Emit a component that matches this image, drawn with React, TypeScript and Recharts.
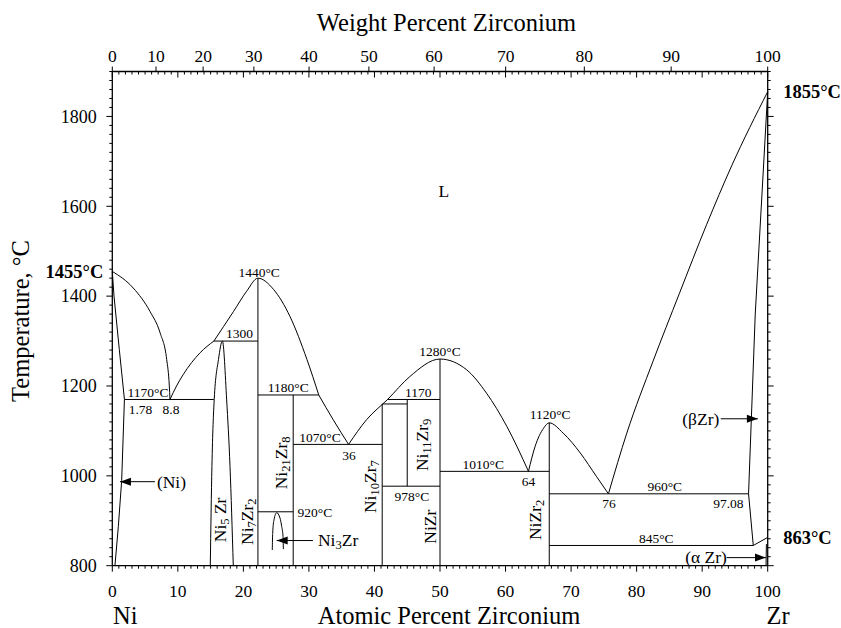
import React from 'react';
import { ComposedChart, Line, Scatter, XAxis, YAxis } from 'recharts';

const FONT = "'Liberation Serif', 'Times New Roman', Times, serif";

// axis ticks
const atomicTicks = [...Array(101).keys()];
const weightLabels = [0, 10, 20, 30, 40, 50, 60, 70, 80, 90, 100];
const weightAtAtomic = [0, 6.67, 13.86, 21.6, 30.02, 39.15, 49.1, 60.02, 72.02, 85.27, 100];
const tempTicks = [...Array(56).keys()].map((i) => 800 + i * 20);
const leftMarks = [1455];
const rightMarks = [1855, 863];

// phase boundaries, [at.% Zr, °C]
const liquidusNi = [[0, 1455], [3.2, 1418], [5.75, 1366], [7.3, 1318], [8.3, 1259], [8.7, 1200], [8.8, 1170]];
const solidusNi = [[0, 1455], [0.26, 1400], [1.07, 1281], [1.85, 1170]];
const solvusNi = [[1.85, 1170], [1.43, 990], [0.92, 887], [0.4, 800]];
const eutectic1170 = [[1.85, 1170], [15.5, 1170]];
const liquidusNi5Zr = [[8.8, 1170], [9.8, 1200], [10.8, 1225], [13.4, 1274], [15.5, 1300]];
const ni5ZrLens = [[14.95, 800], [15.2, 1021], [15.55, 1170], [16.2, 1259], [16.8, 1300], [17.45, 1169], [17.96, 1021], [18.46, 800]];
const peritectic1300 = [[15.5, 1300], [22.22, 1300]];
const ni7Zr2 = [[22.22, 800], [22.22, 1440]];
const liquidusNi7Zr2 = [[15.5, 1300], [18.5, 1366], [20.5, 1411], [22.22, 1440], [24.6, 1415], [27.1, 1355], [29.7, 1259], [31.5, 1180]];
const peritectic1180 = [[22.22, 1180], [31.5, 1180]];
const ni21Zr8 = [[27.6, 800], [27.6, 1180]];
const liquidus36 = [[31.5, 1180], [33.7, 1125], [36.05, 1070]];
const eutectic1070 = [[27.6, 1070], [41.18, 1070]];
const ni3ZrTop = [[22.22, 920], [27.6, 920]];
const ni3ZrLoop = [[24.41, 835], [24.47, 872], [24.67, 902], [25.08, 918], [25.59, 906], [25.85, 887], [26.05, 865], [26.1, 837]];
const liquidusNiZr = [[36.05, 1070], [38.8, 1125], [42, 1170], [45.4, 1221], [50, 1260], [54.07, 1236], [57.1, 1184], [60.2, 1110], [63.5, 1010]];
const peritectic1170 = [[42, 1170], [50, 1170]];
const peritectic1160 = [[41.18, 1160], [45, 1160]];
const ni10Zr7 = [[41.18, 800], [41.18, 1160]];
const ni11Zr9 = [[45, 977], [45, 1170]];
const eutectoid978 = [[41.18, 977], [50, 977]];
const niZr = [[50, 800], [50, 1260]];
const eutectic1010 = [[50, 1010], [66.67, 1010]];
const niZr2 = [[66.67, 800], [66.67, 1118]];
const liquidusNiZr2 = [[63.5, 1010], [64.5, 1065], [65.8, 1106], [66.67, 1118], [68.8, 1095], [71.4, 1051], [73.9, 998], [75.7, 960]];
const eutectic960 = [[66.67, 960], [97.08, 960]];
const liquidusZr = [[75.7, 960], [78.5, 1095], [82.5, 1255], [86.5, 1405], [90.7, 1560], [94.5, 1690], [100, 1855]];
const solidusBetaZr = [[97.08, 960], [98.1, 1360], [100, 1855]];
const solvusBetaZr = [[97.08, 960], [97.8, 845]];
const eutectoid845 = [[66.67, 845], [97.8, 845]];
const transusZr = [[97.8, 845], [100, 863]];
const solvusAlphaZr = [[99.75, 800], [99.8, 848]];

const boundaries = [
  { pts: liquidusNi, curve: 'monotone' },
  { pts: solidusNi, curve: 'linear' },
  { pts: solvusNi, curve: 'linear' },
  { pts: eutectic1170, curve: 'linear' },
  { pts: liquidusNi5Zr, curve: 'monotone' },
  { pts: ni5ZrLens, curve: 'monotone' },
  { pts: peritectic1300, curve: 'linear' },
  { pts: ni7Zr2, curve: 'linear' },
  { pts: liquidusNi7Zr2, curve: 'monotone' },
  { pts: peritectic1180, curve: 'linear' },
  { pts: ni21Zr8, curve: 'linear' },
  { pts: liquidus36, curve: 'monotone' },
  { pts: eutectic1070, curve: 'linear' },
  { pts: ni3ZrTop, curve: 'linear' },
  { pts: ni3ZrLoop, curve: 'monotone' },
  { pts: liquidusNiZr, curve: 'monotone' },
  { pts: peritectic1170, curve: 'linear' },
  { pts: peritectic1160, curve: 'linear' },
  { pts: ni10Zr7, curve: 'linear' },
  { pts: ni11Zr9, curve: 'linear' },
  { pts: eutectoid978, curve: 'linear' },
  { pts: niZr, curve: 'linear' },
  { pts: eutectic1010, curve: 'linear' },
  { pts: niZr2, curve: 'linear' },
  { pts: liquidusNiZr2, curve: 'monotone' },
  { pts: eutectic960, curve: 'linear' },
  { pts: liquidusZr, curve: 'monotone' },
  { pts: solidusBetaZr, curve: 'linear' },
  { pts: solvusBetaZr, curve: 'linear' },
  { pts: eutectoid845, curve: 'linear' },
  { pts: transusZr, curve: 'linear' },
  { pts: solvusAlphaZr, curve: 'linear' },
];

// annotations (anchor at composition / temperature)
const tempNotes = [
  { x: 5.45, y: 1186, text: '1170°C' },
  { x: 4.3, y: 1149, text: '1.78' },
  { x: 8.96, y: 1149, text: '8.8' },
  { x: 19.4, y: 1318, text: '1300' },
  { x: 22.4, y: 1453, text: '1440°C' },
  { x: 26.85, y: 1197, text: '1180°C' },
  { x: 31.7, y: 1086, text: '1070°C' },
  { x: 36.1, y: 1047, text: '36' },
  { x: 30.9, y: 919, text: '920°C' },
  { x: 46.7, y: 1187, text: '1170' },
  { x: 50, y: 1277, text: '1280°C' },
  { x: 45.7, y: 956, text: '978°C' },
  { x: 56.6, y: 1026, text: '1010°C' },
  { x: 63.5, y: 989, text: '64' },
  { x: 66.8, y: 1138, text: '1120°C' },
  { x: 75.8, y: 939, text: '76' },
  { x: 84.3, y: 978, text: '960°C' },
  { x: 94.0, y: 940, text: '97.08' },
  { x: 83.0, y: 862, text: '845°C' },
];
const phaseNotes = [
  { x: 50.6, y: 1634, text: 'L' },
  { x: 9.03, y: 987, text: '(Ni)' },
  { x: 34.45, y: 857, text: 'Ni_3Zr' },
  { x: 89.8, y: 1127, text: '(βZr)' },
  { x: 90.6, y: 819, text: '(α Zr)' },
];
const compoundNotes = [
  { x: 16.45, y: 902, text: 'Ni_5 Zr' },
  { x: 20.5, y: 898, text: 'Ni_7Zr_2' },
  { x: 25.74, y: 1029, text: 'Ni_21Zr_8' },
  { x: 39.33, y: 976, text: 'Ni_10Zr_7' },
  { x: 47.2, y: 1069, text: 'Ni_11Zr_9' },
  { x: 48.47, y: 887, text: 'NiZr' },
  { x: 64.5, y: 902, text: 'NiZr_2' },
];
const arrows = [
  { from: 6.5, to: 1.17, y: 987 },
  { from: 30.62, to: 25.08, y: 856 },
  { from: 92.83, to: 98.5, y: 1127 },
  { from: 93.74, to: 99.74, y: 818 },
];

const notes = [
  ...tempNotes.map((n) => ({ ...n, kind: 'temp' })),
  ...phaseNotes.map((n) => ({ ...n, kind: 'phase' })),
  ...compoundNotes.map((n) => ({ ...n, kind: 'compound' })),
];

const rich = (str: string, size: number) => {
  const parts = str.split(/_(\d+)/);
  return parts.map((p, i) =>
    i % 2 ? (
      <tspan key={i} dy={size * 0.3} fontSize={size * 0.72}>{p}</tspan>
    ) : (
      <tspan key={i} dy={i > 0 ? -size * 0.3 : 0}>{p}</tspan>
    )
  );
};

const renderNote = (props: any) => {
  const { cx, cy, payload } = props;
  const size = payload.kind === 'temp' ? 13.5 : 17.5;
  const rot = payload.kind === 'compound' ? `rotate(-90 ${cx} ${cy})` : undefined;
  return (
    <text x={cx} y={cy} transform={rot} textAnchor="middle" dominantBaseline="central"
      style={{ fontFamily: FONT, fontSize: size, whiteSpace: 'pre' }} fill="#000">
      {rich(payload.text, size)}
    </text>
  );
};

const arrowHead = (dir: number) => (p: any) => {
  if (p.index !== 1) return <g key={`a${p.index}`} />;
  const bx = p.cx - dir * 11;
  return <path key="head" d={`M${p.cx},${p.cy}L${bx},${p.cy - 4}L${bx},${p.cy + 4}Z`} fill="#000" />;
};

const tickText = (size: number, bold = false) => ({ fontFamily: FONT, fontSize: size, fontWeight: bold ? 700 : 400 });

const BottomTick = (p: any) => {
  const v = p.payload.value;
  const major = v % 10 === 0;
  return (
    <g>
      <line x1={p.x} x2={p.x} y1={p.y} y2={p.y + (major ? 6 : 3)} stroke="#000" />
      {major && (
        <text x={p.x} y={p.y + 31} textAnchor="middle" style={tickText(17.5)} fill="#000">{v}</text>
      )}
    </g>
  );
};

const TopTick = (p: any) => {
  const v = p.payload.value;
  const wi = weightAtAtomic.findIndex((a) => Math.abs(a - v) < 1e-6);
  return (
    <g>
      {Number.isInteger(v) && (
        <line x1={p.x} x2={p.x} y1={p.y} y2={p.y + (v % 10 === 0 ? 6 : 3)} stroke="#000" />
      )}
      {wi >= 0 && <line x1={p.x} x2={p.x} y1={p.y} y2={p.y - 5} stroke="#000" />}
      {wi >= 0 && (
        <text x={p.x} y={p.y - 10} textAnchor="middle" style={tickText(17.5)} fill="#000">
          {weightLabels[wi]}
        </text>
      )}
    </g>
  );
};

const LeftTick = (p: any) => {
  const v = p.payload.value;
  if (leftMarks.includes(v)) {
    return (
      <text x={p.x - 9} y={p.y + 6.5} textAnchor="end" style={tickText(18.5, true)} fill="#000">
        {v}°C
      </text>
    );
  }
  const major = v % 200 === 0;
  return (
    <g>
      <line x1={p.x} x2={p.x - (major ? 6 : 3)} y1={p.y} y2={p.y} stroke="#000" />
      {major && v <= 1800 && (
        <text x={p.x - 15.5} y={p.y + 6.3} textAnchor="end" style={tickText(18)} fill="#000">{v}</text>
      )}
    </g>
  );
};

const RightTick = (p: any) => {
  const v = p.payload.value;
  if (rightMarks.includes(v)) {
    return (
      <text x={p.x + 15.5} y={p.y + 6.5} textAnchor="start" style={tickText(18.5, true)} fill="#000">
        {v}°C
      </text>
    );
  }
  const major = v % 200 === 0;
  return <line x1={p.x} x2={p.x + (major ? 6 : 3)} y1={p.y} y2={p.y} stroke="#000" />;
};

const axisLine = { stroke: '#000', strokeWidth: 1.3 };
const topTicks = [...atomicTicks, ...weightAtAtomic.filter((a) => !Number.isInteger(a))];

export default function App() {
  return (
    <div style={{ position: 'absolute', left: 0, top: 0, width: 841, height: 628, background: '#fff', fontFamily: FONT }}>
      <ComposedChart width={841} height={628} margin={{ top: 41.5, right: 63.3, bottom: 32.3, left: 52.3 }}>
        <XAxis xAxisId="at" dataKey="x" type="number" domain={[0, 100]} ticks={atomicTicks} interval={0}
          tickSize={0} tickMargin={0} tickLine={false} tick={BottomTick} axisLine={axisLine} height={30} />
        <XAxis xAxisId="wt" dataKey="x" type="number" orientation="top" domain={[0, 100]} ticks={topTicks} interval={0}
          tickSize={0} tickMargin={0} tickLine={false} tick={TopTick} axisLine={axisLine} height={30} />
        <YAxis yAxisId="t" dataKey="y" type="number" domain={[800, 1900]} ticks={[...tempTicks, ...leftMarks]} interval={0}
          tickSize={0} tickMargin={0} tickLine={false} tick={LeftTick} axisLine={axisLine} width={60} />
        <YAxis yAxisId="r" dataKey="y" type="number" orientation="right" domain={[800, 1900]} ticks={[...tempTicks, ...rightMarks]}
          interval={0} tickSize={0} tickMargin={0} tickLine={false} tick={RightTick} axisLine={axisLine} width={10} />
        {boundaries.map((b, i) => (
          <Line key={`b${i}`} xAxisId="at" yAxisId="t" data={b.pts.map(([x, y]) => ({ x, y }))} dataKey="y"
            type={b.curve as any} stroke="#000" strokeWidth={1} dot={false} activeDot={false} isAnimationActive={false} />
        ))}
        {/* arrows use the top/right axes (same domains) so those axes get their ticks */}
        {arrows.map((a, i) => (
          <Line key={`a${i}`} xAxisId="wt" yAxisId="r" data={[{ x: a.from, y: a.y }, { x: a.to, y: a.y }]} dataKey="y"
            type="linear" stroke="#000" strokeWidth={1} dot={arrowHead(Math.sign(a.to - a.from))} activeDot={false}
            isAnimationActive={false} />
        ))}
        <Scatter xAxisId="at" yAxisId="t" data={notes} shape={renderNote} isAnimationActive={false} />
      </ComposedChart>
      <svg width={841} height={628} style={{ position: 'absolute', left: 0, top: 0, pointerEvents: 'none' }}>
        <g style={{ fontFamily: FONT, fontSize: 24.5 }} fill="#000">
          <text x={446.5} y={30.5} textAnchor="middle">Weight Percent Zirconium</text>
          <text x={449} y={623.5} textAnchor="middle">Atomic Percent Zirconium</text>
          <text x={113} y={623.5}>Ni</text>
          <text x={778} y={623.5} textAnchor="middle">Zr</text>
          <text x={29} y={321} transform="rotate(-90 29 321)" textAnchor="middle">Temperature, °C</text>
        </g>
      </svg>
    </div>
  );
}
